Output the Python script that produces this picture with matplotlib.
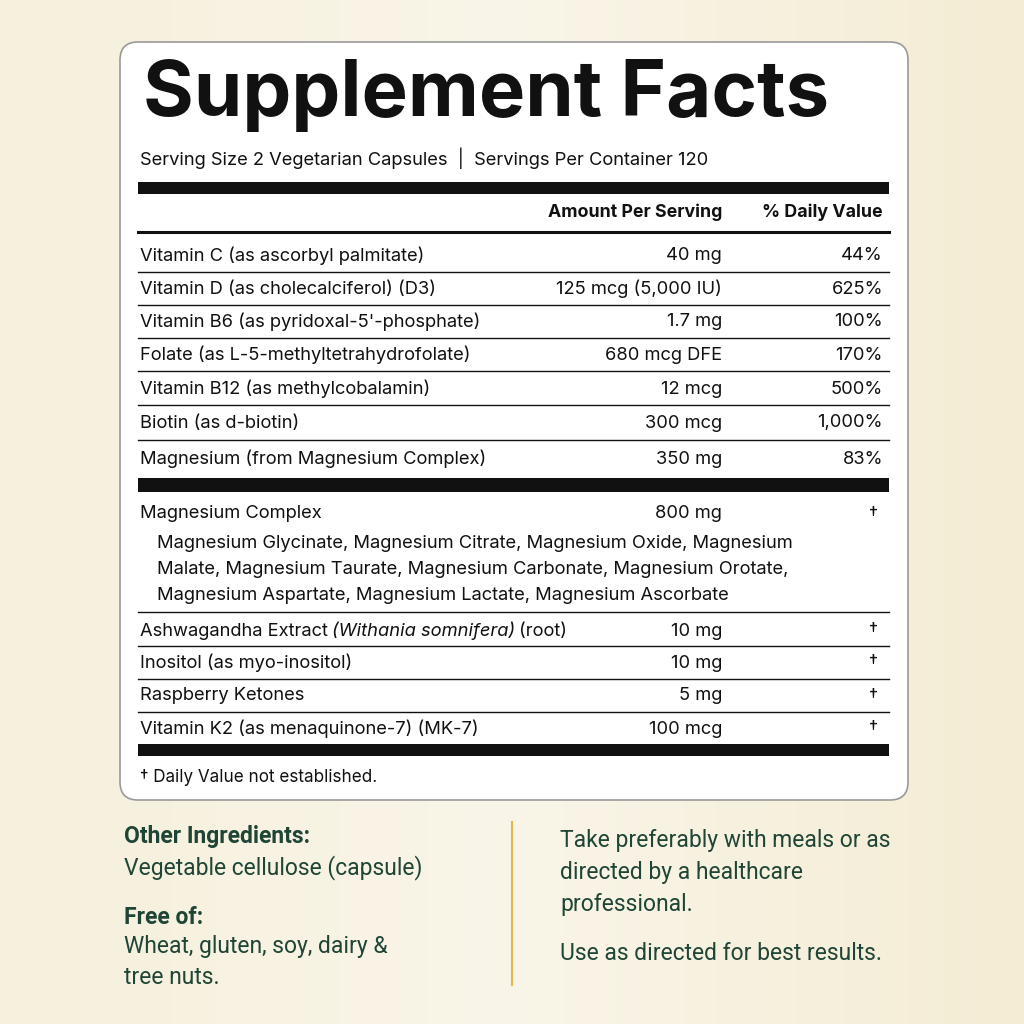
import matplotlib
matplotlib.use("Agg")
import matplotlib.pyplot as plt
from matplotlib.patches import FancyBboxPatch, Rectangle
from matplotlib.colors import LinearSegmentedColormap
import numpy as np

plt.rcParams['font.family'] = ['Inter', 'DejaVu Sans']

names = ["Vitamin C (as ascorbyl palmitate)", "Vitamin D (as cholecalciferol) (D3)",
         "Vitamin B6 (as pyridoxal-5'-phosphate)", "Folate (as L-5-methyltetrahydrofolate)",
         "Vitamin B12 (as methylcobalamin)", "Biotin (as d-biotin)",
         "Magnesium (from Magnesium Complex)"]
amounts = ["40 mg", "125 mcg (5,000 IU)", "1.7 mg", "680 mcg DFE", "12 mcg", "300 mcg", "350 mg"]
dvs = ["44%", "625%", "100%", "170%", "500%", "1,000%", "83%"]
complex_lines = ["Magnesium Glycinate, Magnesium Citrate, Magnesium Oxide, Magnesium",
                 "Malate, Magnesium Taurate, Magnesium Carbonate, Magnesium Orotate,",
                 "Magnesium Aspartate, Magnesium Lactate, Magnesium Ascorbate"]
names2 = ["Ashwagandha Extract", "Inositol (as myo-inositol)", "Raspberry Ketones",
          "Vitamin K2 (as menaquinone-7) (MK-7)"]
amounts2 = ["10 mg", "10 mg", "5 mg", "100 mcg"]

fig = plt.figure(figsize=(10.24, 10.24), dpi=100)
ax = fig.add_axes([0, 0, 1, 1])
ax.set_xlim(0, 1024); ax.set_ylim(1024, 0); ax.axis("off")
grad = np.linspace(0, 1, 256).reshape(1, -1)
cm = LinearSegmentedColormap.from_list("bg", ["#f6f0dc", "#f9f5e8", "#f4ecd4"])
ax.imshow(np.tile(grad, (256, 1)), cmap=cm, extent=(0, 1024, 1024, 0), aspect="auto", zorder=0)

ax.add_patch(FancyBboxPatch((120, 42), 788, 758, boxstyle="round,pad=0,rounding_size=18",
                            fc="white", ec="#9a9a9a", lw=1.2, zorder=1))
K = "#111111"
def T(x, y, s, size=13.2, ha="left", **kw):
    return ax.text(x, y, s, fontsize=size, ha=ha, va="center", color=kw.pop("color", K), zorder=3, **kw)
def bar(y0, y1):
    ax.add_patch(Rectangle((138, y0), 751, y1 - y0, fc=K, ec="none", zorder=2))
def line(y, w=1.0):
    ax.plot([138, 889], [y, y], color=K, lw=w, zorder=2)

T(143, 95, "Supplement Facts", size=56, weight="bold")
T(140, 158, "Serving Size 2 Vegetarian Capsules  |  Servings Per Container 120")
bar(182, 194)
T(722, 212, "Amount Per Serving", size=12.8, ha="right", weight="bold")
T(883, 212, "% Daily Value", size=12.8, ha="right", weight="bold")
line(232, 2.2)
ys = [256, 289, 322, 355, 389, 423, 459]
for i, (n, a, d) in enumerate(zip(names, amounts, dvs)):
    T(140, ys[i], n); T(722, ys[i], a, ha="right"); T(883, ys[i], d, ha="right")
    if i < len(ys) - 1:
        line((ys[i] + ys[i + 1]) / 2 - 1)
bar(478, 492)
T(140, 514, "Magnesium Complex"); T(722, 514, "800 mg", ha="right"); T(878, 514, "†", ha="right")
for j, s in enumerate(complex_lines):
    T(157, 544 + 26 * j, s)
line(612)
ys2 = [631, 663, 696, 729]
fig.canvas.draw()
r = fig.canvas.get_renderer()
inv = ax.transData.inverted()
for i, (n, a) in enumerate(zip(names2, amounts2)):
    t = T(140, ys2[i], n)
    if i == 0:
        x1 = inv.transform(t.get_window_extent(r).get_points())[1][0]
        t2 = T(x1 + 4, ys2[i], "(Withania somnifera)", style="italic")
        x2 = inv.transform(t2.get_window_extent(r).get_points())[1][0]
        T(x2 + 4, ys2[i], "(root)")
    T(722, ys2[i], a, ha="right"); T(878, ys2[i], "†", ha="right")
    if i < len(ys2) - 1:
        line((ys2[i] + ys2[i + 1]) / 2 - 1)
bar(744, 756)
T(140, 777, "† Daily Value not established.", size=12.3)

G = "#1f4536"
F = ['Roboto', 'DejaVu Sans']
T(124, 837, "Other Ingredients:", size=16.5, weight="bold", color=G, family=F)
T(124, 868, "Vegetable cellulose (capsule)", size=16.5, color=G, family=F)
T(124, 917, "Free of:", size=16.5, weight="bold", color=G, family=F)
T(124, 947, "Wheat, gluten, soy, dairy &", size=16.5, color=G, family=F)
T(124, 978, "tree nuts.", size=16.5, color=G, family=F)
ax.plot([512, 512], [822, 985], color="#e2b64a", lw=1.5, zorder=2)
for y, s in zip([840, 872, 905, 953], ["Take preferably with meals or as", "directed by a healthcare",
                                       "professional.", "Use as directed for best results."]):
    T(560, y, s, size=16.5, color=G, family=F)

fig.savefig("out.png", dpi=100)
